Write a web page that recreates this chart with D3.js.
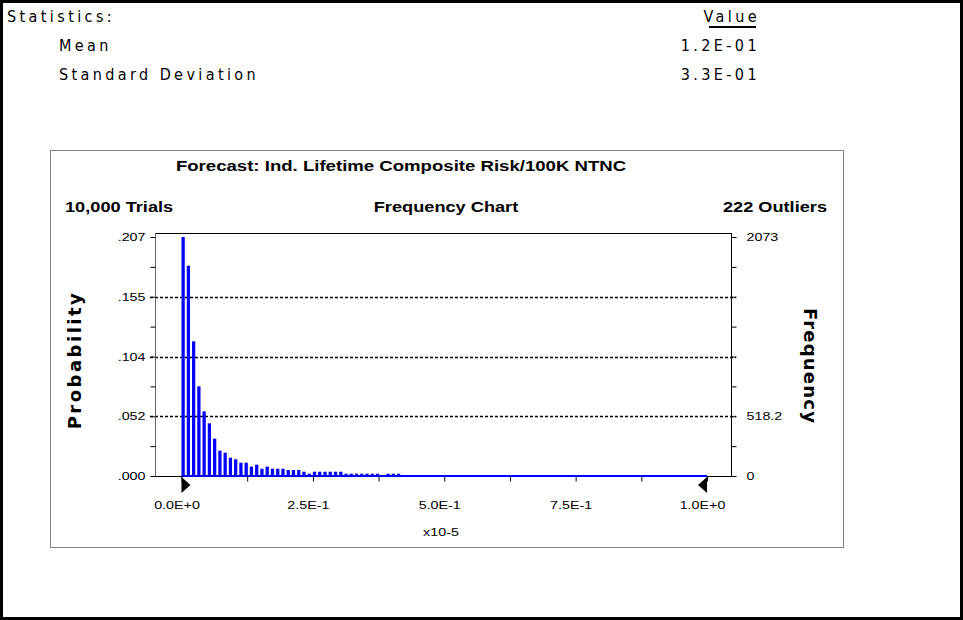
<!DOCTYPE html>
<html lang="en">
<head>
<meta charset="UTF-8">
<title>Forecast Frequency Chart</title>
<script src="https://cdnjs.cloudflare.com/ajax/libs/d3/7.8.5/d3.min.js"></script>
<style>
  body { margin: 0; background: #fff; }
  svg { display: block; }
</style>
</head>
<body>
<script>
// statistics panel
const statLabels = ["Mean", "Standard Deviation"]
const statValues = ["1.2E-01", "3.3E-01"]

// histogram: 100 bins over 0..1 (x10-5), frequencies out of 10,000 trials
const binWidth = 0.01
const freqs = [2073, 1824, 1168, 778, 561, 457, 324, 220, 202, 159,
               145, 115, 115, 81, 98, 63, 81, 63, 63, 63,
               52, 52, 52, 37, 20, 37, 37, 37, 37, 37,
               37, 20, 20, 20, 20, 20, 20, 20, 0, 20,
               20, 20]
const trials = 10000
const outliers = 222

const probTicks = [0, 0.0518, 0.1036, 0.1555, 0.2073]
const probLabels = [".000", ".052", ".104", ".155", ".207"]
const freqLabels = ["0", "518.2", "", "", "2073"]
const xTicks = [0, 0.25, 0.5, 0.75, 1.0]
const xLabels = ["0.0E+0", "2.5E-1", "5.0E-1", "7.5E-1", "1.0E+0"]

const width = 963, height = 620
const sx = 1.3   // the chart text is drawn a little wide
const svg = d3.select("body").append("svg")
    .attr("width", width)
    .attr("height", height)

// outer frame
svg.append("rect")
    .attr("x", 1.5).attr("y", 1.5)
    .attr("width", width - 3).attr("height", height - 3)
    .attr("fill", "none").attr("stroke", "#000").attr("stroke-width", 3)

const statFont = "'Liberation Sans Narrow', 'DejaVu Sans Condensed', sans-serif"
function statText(x, y, s, anchor) {
    return svg.append("text")
        .attr("x", x).attr("y", y)
        .attr("text-anchor", anchor || "start")
        .style("font-family", statFont)
        .style("font-size", "16px")
        .style("letter-spacing", "3.4px")
        .text(s)
}
statText(7, 22, "Statistics:")
statText(760, 22, "Value", "end")
svg.append("line")
    .attr("x1", 709).attr("x2", 756)
    .attr("y1", 27).attr("y2", 27)
    .attr("stroke", "#000").attr("stroke-width", 2)
statLabels.forEach((s, i) => {
    statText(59, 51 + i * 29, s)
    statText(760, 51 + i * 29, statValues[i], "end")
})

// chart box
svg.append("rect")
    .attr("x", 50.5).attr("y", 150.5)
    .attr("width", 793).attr("height", 397)
    .attr("fill", "none").attr("stroke", "#808080").attr("stroke-width", 1)

const font = "'Liberation Sans', Arial, sans-serif"
function wideText(x, y, s, anchor, size, weight) {
    return svg.append("text")
        .attr("transform", `translate(${x},${y}) scale(${sx},1)`)
        .attr("text-anchor", anchor)
        .style("font-family", font)
        .style("font-weight", weight || "bold")
        .style("font-size", size + "px")
        .text(s)
}
wideText(401, 171, "Forecast: Ind. Lifetime Composite Risk/100K NTNC", "middle", 14.3)
wideText(65, 212, d3.format(",")(trials) + " Trials", "start", 14)
wideText(446, 212, "Frequency Chart", "middle", 14)
wideText(827, 212, outliers + " Outliers", "end", 14)

const plot = { left: 155, right: 731, top: 233, bottom: 476 }
const x = d3.scaleLinear().domain([0, 1]).range([181.5, 707])
const y = d3.scaleLinear().domain([0, 0.2073]).range([plot.bottom, 237])

const g = svg.append("g")

// dashed gridlines
g.selectAll("line.grid").data(probTicks.slice(1, 4)).join("line")
    .attr("class", "grid")
    .attr("x1", plot.left - 5).attr("x2", plot.right + 5)
    .attr("y1", d => Math.round(y(d)) + 0.5).attr("y2", d => Math.round(y(d)) + 0.5)
    .attr("stroke", "#000").attr("stroke-width", 1.5)
    .attr("stroke-dasharray", "3,2")

// bars
const bw = x(binWidth) - x(0)
g.selectAll("rect.bar").data(freqs).join("rect")
    .attr("class", "bar")
    .attr("x", (d, i) => x(i * binWidth))
    .attr("width", bw - 2)
    .attr("y", d => y(d / trials))
    .attr("height", d => plot.bottom - y(d / trials))
    .attr("fill", "#0000ff")

// plot frame
svg.append("rect")
    .attr("x", plot.left + 0.5).attr("y", plot.top + 0.5)
    .attr("width", plot.right - plot.left).attr("height", plot.bottom - plot.top)
    .attr("fill", "none").attr("stroke", "#000").attr("stroke-width", 1)
svg.append("line")
    .attr("x1", plot.left + 0.5).attr("x2", plot.left + 0.5)
    .attr("y1", plot.top).attr("y2", plot.bottom + 1)
    .attr("stroke", "#666").attr("stroke-width", 1)

// blue baseline across the forecast range
svg.append("line")
    .attr("x1", x(0)).attr("x2", x(1))
    .attr("y1", plot.bottom).attr("y2", plot.bottom)
    .attr("stroke", "#0000ff").attr("stroke-width", 2)

function tickText(sel) {
    sel.style("font-family", font).style("font-size", "11px")
}

// left axis (probability)
const minorY = d3.range(0, 9).map(i => 0.2073 * i / 8)
const labelAt = (labels) => d => {
    const k = probTicks.findIndex(t => Math.abs(t - d) < 0.001)
    return k >= 0 ? labels[k] : ""
}
const la = svg.append("g").attr("transform", `translate(${plot.left + 0.5},0)`)
    .call(d3.axisLeft(y).tickValues(minorY).tickSize(5).tickFormat(labelAt(probLabels)))
la.select(".domain").remove()
la.selectAll("text").call(tickText)
    .attr("x", -10 / sx).attr("transform", `scale(${sx},1)`)

// right axis (frequency)
const ra = svg.append("g").attr("transform", `translate(${plot.right + 0.5},0)`)
    .call(d3.axisRight(y).tickValues(minorY).tickSize(5).tickFormat(labelAt(freqLabels)))
ra.select(".domain").remove()
ra.selectAll("text").call(tickText)
    .attr("x", 15 / sx).attr("transform", `scale(${sx},1)`)

// bottom axis
const xAxis = d3.axisBottom(x).tickValues(d3.range(0, 9).map(i => i / 8)).tickSize(5)
    .tickFormat(d => { const k = xTicks.indexOf(d); return k >= 0 ? xLabels[k] : "" })
const ba = svg.append("g").attr("transform", `translate(0,${plot.bottom + 0.5})`).call(xAxis)
ba.select(".domain").remove()
ba.selectAll("text").call(tickText)
    .attr("x", -5 / sx).attr("y", 25).attr("transform", `scale(${sx},1)`)

// range markers
svg.append("path")
    .attr("d", `M${x(0)},${plot.bottom + 1}L${x(0) + 9},${plot.bottom + 9}L${x(0)},${plot.bottom + 17}Z`)
    .attr("fill", "#000")
svg.append("path")
    .attr("d", `M${x(1)},${plot.bottom + 1}L${x(1) - 9},${plot.bottom + 9}L${x(1)},${plot.bottom + 17}Z`)
    .attr("fill", "#000")

wideText(441, 536, "x10-5", "middle", 11, "normal")

// axis titles
const titleFont = "'DejaVu Sans', sans-serif"
svg.append("text")
    .attr("transform", "translate(81,360) rotate(-90)")
    .attr("text-anchor", "middle")
    .style("font-family", titleFont).style("font-weight", "bold").style("font-size", "18px")
    .style("letter-spacing", "2.5px")
    .text("Probability")
svg.append("text")
    .attr("transform", "translate(804,366) rotate(90)")
    .attr("text-anchor", "middle")
    .style("font-family", titleFont).style("font-weight", "bold").style("font-size", "18px")
    .style("letter-spacing", "1.2px")
    .text("Frequency")
</script>
</body>
</html>
